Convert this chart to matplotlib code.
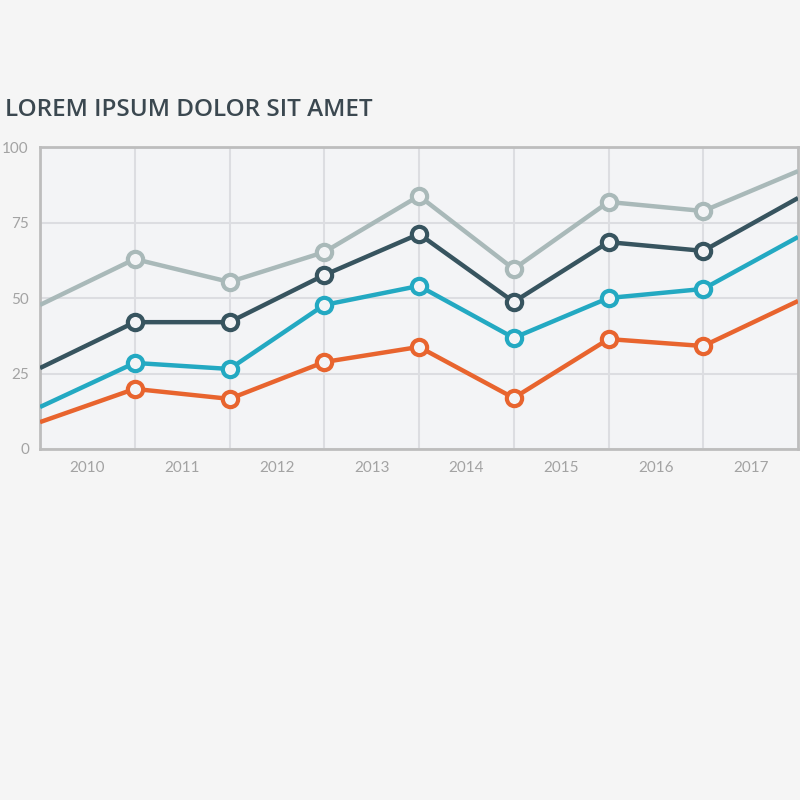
import matplotlib
matplotlib.use('Agg')
import matplotlib.pyplot as plt

years = ['2010', '2011', '2012', '2013', '2014', '2015', '2016', '2017']
# values at the 9 boundaries (left edge, 7 gridlines, right edge)
grey = [47.7, 62.9, 55.3, 65.2, 83.8, 59.6, 81.8, 78.8, 92.0]
dark = [26.8, 42.0, 42.0, 57.6, 71.2, 48.7, 68.5, 65.6, 83.1]
teal = [13.9, 28.5, 26.5, 47.7, 54.0, 36.8, 50.0, 53.0, 70.2]
orange = [8.9, 19.9, 16.6, 28.8, 33.8, 16.9, 36.4, 34.1, 49.0]
yticks = [0, 25, 50, 75, 100]

series = [(grey, '#a9b9b9'), (dark, '#37545f'), (teal, '#23a9c2'), (orange, '#e8642e')]

bg = '#f5f5f5'
fig = plt.figure(figsize=(8, 8), dpi=100, facecolor=bg)
ax = fig.add_axes([0.05, 0.43875, 0.9475, 0.3775])
ax.set_facecolor('#f3f4f6')

xs = list(range(len(grey)))
for vals, c in series:
    ax.plot(xs, vals, color=c, lw=3.2, zorder=3, solid_capstyle='butt')
    ax.plot(xs[1:-1], vals[1:-1], 'o', ms=11, mfc='#f3f4f6', mec=c, mew=3, zorder=4)

ax.set_xlim(0, 8)
ax.set_ylim(0, 100)
ax.set_xticks(range(1, 8))
ax.set_xticklabels([])
ax.set_xticks([i + 0.5 for i in range(8)], minor=True)
ax.set_xticklabels(years, minor=True)
ax.set_yticks(yticks)
ax.set_yticklabels([str(v) for v in yticks])
ax.grid(True, which='major', color='#dcdde1', lw=1.5, zorder=0)
ax.tick_params(which='both', length=0, colors='#a3a3a3', labelsize=10.5)
ax.tick_params(axis='x', which='minor', pad=9)
ax.tick_params(axis='y', pad=8)
for lab in ax.get_xticklabels(minor=True) + ax.get_yticklabels():
    lab.set_family(['Lato', 'DejaVu Sans'])
    lab.set_fontsize(11)
for s in ax.spines.values():
    s.set_color('#bdbdbd')
    s.set_linewidth(2)

fig.text(0.006, 0.862, 'LOREM IPSUM DOLOR SIT AMET', fontsize=17.5, fontweight='semibold',
         color='#3b4850', family=['Open Sans', 'DejaVu Sans'], va='center', ha='left')

fig.savefig('out.png', dpi=100, facecolor=bg)
